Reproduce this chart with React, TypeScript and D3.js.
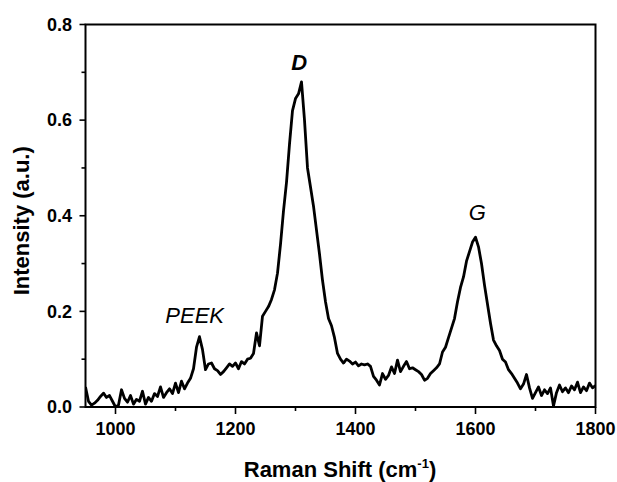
import React from "react";
import * as d3 from "d3";

const intensity: number[] = [
  0.042, 0.012, 0.004, 0.008, 0.014, 0.022, 0.029, 0.02, 0.024, 0.012,
  0.0, 0.004, 0.036, 0.018, 0.01, 0.024, 0.006, 0.016, 0.012, 0.033,
  0.006, 0.02, 0.012, 0.028, 0.022, 0.042, 0.02, 0.03, 0.038, 0.028,
  0.05, 0.03, 0.054, 0.038, 0.05, 0.06, 0.08, 0.125, 0.147, 0.12,
  0.078, 0.09, 0.092, 0.08, 0.076, 0.068, 0.074, 0.082, 0.09, 0.085,
  0.092, 0.08, 0.095, 0.09, 0.1, 0.102, 0.112, 0.155, 0.128, 0.19,
  0.2, 0.21, 0.225, 0.245, 0.28, 0.34, 0.41, 0.47, 0.55, 0.62,
  0.645, 0.655, 0.68, 0.6, 0.5, 0.46, 0.42, 0.37, 0.32, 0.265,
  0.22, 0.185, 0.17, 0.145, 0.112, 0.1, 0.092, 0.1, 0.096, 0.09,
  0.094, 0.086, 0.09, 0.088, 0.09, 0.085, 0.064, 0.056, 0.046, 0.07,
  0.058, 0.066, 0.084, 0.07, 0.098, 0.074, 0.085, 0.095, 0.08, 0.082,
  0.078, 0.074, 0.068, 0.056, 0.06, 0.07, 0.076, 0.082, 0.09, 0.115,
  0.125, 0.145, 0.165, 0.185, 0.22, 0.25, 0.272, 0.305, 0.325, 0.345,
  0.355, 0.335, 0.3, 0.255, 0.215, 0.175, 0.14, 0.128, 0.118, 0.1,
  0.094, 0.078, 0.07, 0.06, 0.05, 0.038, 0.048, 0.068, 0.04, 0.018,
  0.03, 0.042, 0.024, 0.036, 0.028, 0.04, 0.002, 0.03, 0.046, 0.032,
  0.04, 0.03, 0.044, 0.036, 0.052, 0.03, 0.042, 0.034, 0.05, 0.04,
  0.045,
];
const shiftStart = 950;
const shiftStep = 5;
const shift: number[] = intensity.map((_, i) => shiftStart + i * shiftStep);

const xMajorTicks = [1000, 1200, 1400, 1600, 1800];
const xMinorTicks = [1100, 1300, 1500, 1700];
const yMajorTicks = [0.0, 0.2, 0.4, 0.6, 0.8];
const yMinorTicks = [0.1, 0.3, 0.5, 0.7];

const peakLabels = [
  { text: "PEEK", x: 1132, y: 0.175, weight: "normal" },
  { text: "D", x: 1306, y: 0.705, weight: "bold" },
  { text: "G", x: 1603, y: 0.392, weight: "normal" },
];

const W = 617;
const H = 482;
const L = 85.5, R = 595.5, T = 24.5, B = 407;

export default function App() {
  const x = d3.scaleLinear().domain([950, 1800]).range([L, R]);
  const y = d3.scaleLinear().domain([0, 0.8]).range([B, T]);
  const pts: [number, number][] = shift.map((s, i) => [s, intensity[i]]);
  const line = d3
    .line<[number, number]>()
    .x((d) => x(d[0]))
    .y((d) => y(d[1]));
  const font = "Arial, 'Liberation Sans', Helvetica, sans-serif";
  return (
    <svg
      width={W}
      height={H}
      style={{ position: "absolute", left: 0, top: 0, background: "#fff" }}
      fontFamily={font}
    >
      <defs>
        <clipPath id="plot">
          <rect x={L} y={T - 2} width={R - L} height={B - T + 2} />
        </clipPath>
      </defs>
      <rect x={0} y={0} width={W} height={H} fill="#fff" />
      <path
        d={line(pts) || ""}
        fill="none"
        stroke="#000"
        strokeWidth={2.8}
        strokeLinejoin="round"
        clipPath="url(#plot)"
      />
      {/* frame */}
      <rect x={L} y={T} width={R - L} height={B - T} fill="none" stroke="#000" strokeWidth={2} />
      {/* x ticks */}
      {xMajorTicks.map((t) => (
        <g key={"xm" + t}>
          <line x1={x(t)} x2={x(t)} y1={B} y2={B + 7} stroke="#000" strokeWidth={1.6} />
          <text x={x(t)} y={435} textAnchor="middle" fontWeight="bold" fontSize={18}>
            {t}
          </text>
        </g>
      ))}
      {xMinorTicks.map((t) => (
        <line key={"xn" + t} x1={x(t)} x2={x(t)} y1={B} y2={B + 4} stroke="#000" strokeWidth={1.6} />
      ))}
      {/* y ticks */}
      {yMajorTicks.map((t) => (
        <g key={"ym" + t}>
          <line x1={L} x2={L - 6} y1={y(t)} y2={y(t)} stroke="#000" strokeWidth={1.6} />
          <text
            x={72}
            y={y(t)}
            dy="0.35em"
            textAnchor="end"
            fontWeight="bold"
            fontSize={18}
          >
            {t.toFixed(1)}
          </text>
        </g>
      ))}
      {yMinorTicks.map((t) => (
        <line key={"yn" + t} x1={L} x2={L - 4} y1={y(t)} y2={y(t)} stroke="#000" strokeWidth={1.6} />
      ))}
      {/* axis titles */}
      <text x={340} y={477} textAnchor="middle" fontWeight="bold" fontSize={22}>
        Raman Shift (cm
        <tspan fontSize={13} dy={-9}>-1</tspan>
        <tspan dy={9}>)</tspan>
      </text>
      <text
        transform={`translate(29, ${(T + B) / 2 + 5}) rotate(-90)`}
        textAnchor="middle"
        fontWeight="bold"
        fontSize={22}
      >
        Intensity (a.u.)
      </text>
      {/* peak labels */}
      {peakLabels.map((p) => (
        <text
          key={p.text}
          x={x(p.x)}
          y={y(p.y)}
          textAnchor="middle"
          fontStyle="italic"
          fontWeight={p.weight}
          fontSize={22}
        >
          {p.text}
        </text>
      ))}
    </svg>
  );
}
